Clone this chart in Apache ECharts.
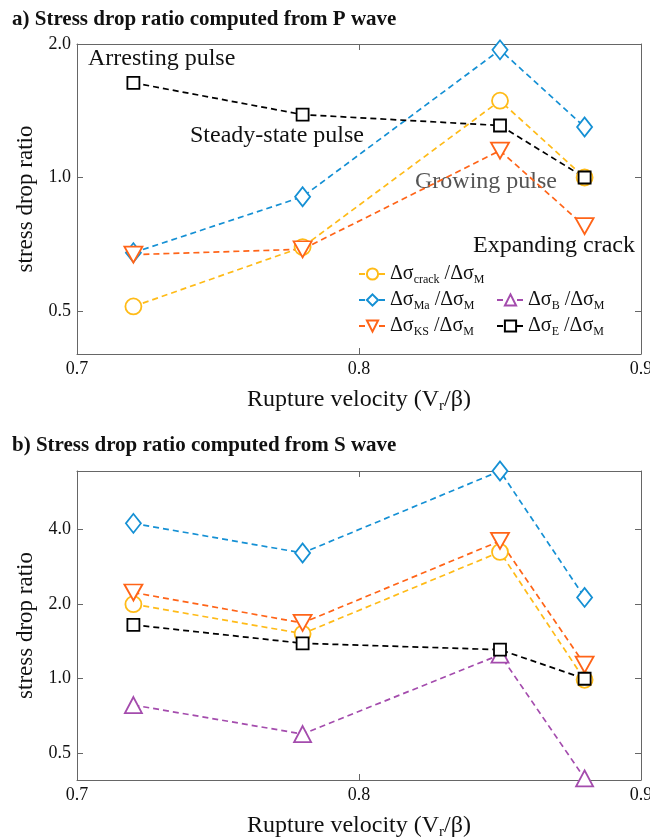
<!DOCTYPE html>
<html><head><meta charset="utf-8">
<script src="https://cdn.jsdelivr.net/npm/echarts@6/dist/echarts.min.js"></script>
<style>html,body{margin:0;padding:0;background:#fff}#c{width:650px;height:839px}</style>
</head><body><div id="c"></div>
<script>
// ---- data ----
const xValues = [0.72, 0.78, 0.85, 0.88];
const xTicks = [0.7, 0.8, 0.9];
// P wave (panel a)
const pCrack = [0.512, 0.697, 1.49, 1.0];
const pMa    = [0.677, 0.905, 1.94, 1.30];
const pKS    = [0.67, 0.689, 1.15, 0.777];
const pB     = [null, null, null, null];
const pE     = [1.635, 1.386, 1.31, 1.0];
// S wave (panel b)
const sCrack = [2.0, 1.52, 3.25, 0.99];
const sMa    = [4.24, 3.22, 6.9, 2.13];
const sKS    = [2.23, 1.68, 3.6, 1.14];
const sB     = [0.783, 0.598, 1.25, 0.396];
const sE     = [1.65, 1.39, 1.31, 1.0];
const pYTicks = ['0.5', '1.0', '2.0'];
const sYTicks = ['0.5', '1.0', '2.0', '4.0'];

const FONT = 'Liberation Serif';
const colors = {crack:'#ffbb18', Ma:'#1590d4', KS:'#ff6418', B:'#a44cad', E:'#000000'};
const symbols = {crack:['circle',16], Ma:['diamond',[15,19]], KS:['triangle',[18,16]], B:['triangle',[17,16]], E:['rect',[12,12]]};
const subs = {crack:'crack', Ma:'Ma', KS:'KS', B:'B', E:'E'};

const chart = echarts.init(document.getElementById('c'));
const grids = [
  {left:77, top:44, width:564, height:310, outerBoundsMode:'none', containLabel:false},
  {left:77, top:471, width:564, height:309, outerBoundsMode:'none', containLabel:false}
];
const axColor = '#666';
function xAx(gi, show){
  return [{
    type:'value', gridIndex:gi, min:0.7, max:0.9, interval:0.1,
    axisLine:{lineStyle:{color:axColor}}, splitLine:{show:false},
    axisTick:{inside:true, length:6, lineStyle:{color:axColor}},
    axisLabel:{color:'#111', fontFamily:FONT, fontSize:18, margin:6,
      formatter:v=>{const s=xTicks.find(t=>Math.abs(t-v)<1e-6);return s!==undefined?s.toFixed(1):'';}},
    name:'{n|Rupture velocity (V}{s|r}{n|/β)}', nameLocation:'middle', nameGap:31,
    nameTextStyle:{rich:{n:{fontFamily:FONT,fontSize:24,color:'#111'},s:{fontFamily:FONT,fontSize:15,color:'#111',verticalAlign:'bottom',padding:[14,0,0,0]}}}
  },{
    type:'value', gridIndex:gi, min:0.7, max:0.9, interval:0.1, position:'top',
    axisLine:{lineStyle:{color:axColor}}, splitLine:{show:false},
    axisTick:{inside:true, length:6, lineStyle:{color:axColor}}, axisLabel:{show:false}
  }];
}
function yAx(gi, min, max, ticks){
  const fmt = v=>{const s=ticks.find(t=>Math.abs(parseFloat(t)-v)<1e-6);return s||'';};
  return [{
    type:'log', logBase:2, gridIndex:gi, min:min, max:max,
    axisLine:{show:true, lineStyle:{color:axColor}}, splitLine:{show:false}, minorTick:{show:false},
    axisTick:{inside:true, length:6, lineStyle:{color:axColor}},
    axisLabel:{color:'#111', fontFamily:FONT, fontSize:18, margin:6, formatter:fmt, showMinLabel:false},
    name:'stress drop ratio', nameLocation:'middle', nameGap:36,
    nameTextStyle:{fontFamily:FONT, fontSize:23, color:'#111'}
  },{
    type:'log', logBase:2, gridIndex:gi, min:min, max:max, position:'right',
    axisLine:{show:true, lineStyle:{color:axColor}}, splitLine:{show:false},
    axisTick:{inside:true, length:6, lineStyle:{color:axColor}}, axisLabel:{show:false}
  }];
}
function mk(key, vals, gi){
  return {
    name:key, type:'line', xAxisIndex:gi*2, yAxisIndex:gi*2,
    data: xValues.map((x,i)=>[x, vals[i]]),
    symbol: symbols[key][0], symbolSize: symbols[key][1],
    symbolRotate: key==='KS'?180:0,
    showAllSymbol:true,
    lineStyle:{color:colors[key], width:1.7, type:[6,4]},
    itemStyle:{color:'#fff', borderColor:colors[key], borderWidth:1.8},
    emphasis:{disabled:true}, animation:false, connectNulls:false
  };
}
const keys = ['crack','Ma','KS','B','E'];
const pData = {crack:pCrack, Ma:pMa, KS:pKS, B:pB, E:pE};
const sData = {crack:sCrack, Ma:sMa, KS:sKS, B:sB, E:sE};
const series = [];
keys.forEach(k=>series.push(mk(k, pData[k], 0)));
keys.forEach(k=>{const s=mk(k, sData[k], 1); s.name=k+'_s'; series.push(s);});

const legRich = {n:{fontFamily:FONT,fontSize:20,color:'#111'}, s:{fontFamily:FONT,fontSize:12,color:'#111',padding:[12,0,0,0]}};
function leg(key, left, top){
  return {data:[key], left:left, top:top, itemWidth:27, itemHeight:14, itemGap:4, selectedMode:false,
    formatter:()=>'{n|Δσ}{s|'+subs[key]+'}{n| /Δσ}{s|M}',
    textStyle:{rich:legRich, padding:[0,0,0,-1]}};
}
const legends = [leg('crack',353,259), leg('Ma',353,285), leg('KS',353,311), leg('B',491,285), leg('E',491,311)];

const annot = (txt, x, y, col)=>({type:'text', left:x, top:y, style:{text:txt, font:'24px "Liberation Serif"', fill:col||'#111'}});

chart.setOption({
  animation:false,
  title:[
    {left:7, top:4, text:'{n|a) }{b|Stress drop ratio computed from P wave}', textStyle:{rich:{n:{fontFamily:FONT,fontSize:21,color:'#111'},b:{fontFamily:FONT,fontSize:21,fontWeight:'bold',color:'#111'}}}},
    {left:7, top:430, text:'{n|b) }{b|Stress drop ratio computed from S wave}', textStyle:{rich:{n:{fontFamily:FONT,fontSize:21,color:'#111'},b:{fontFamily:FONT,fontSize:21,fontWeight:'bold',color:'#111'}}}}
  ],
  grid: grids,
  xAxis: [...xAx(0), ...xAx(1)],
  yAxis: [...yAx(0, 0.40, 2.0, pYTicks), ...yAx(1, 0.39, 6.9, sYTicks)],
  legend: legends,
  series: series,
  graphic: [
    annot('Arresting pulse', 88, 47),
    annot('Steady-state pulse', 190, 124),
    annot('Growing pulse', 415, 170, '#555'),
    annot('Expanding crack', 473, 234)
  ]
});
</script></body></html>
